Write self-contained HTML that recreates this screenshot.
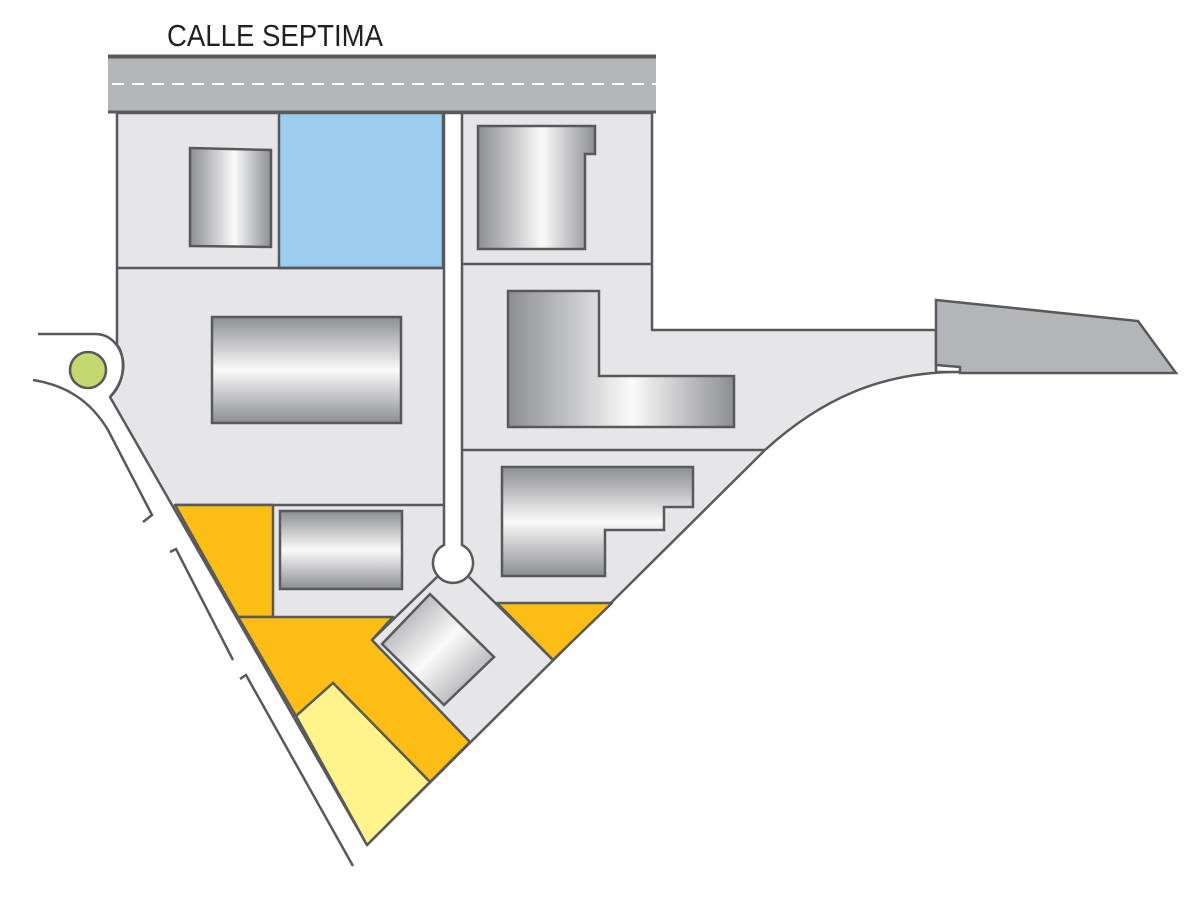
<!DOCTYPE html>
<html><head><style>html,body{margin:0;padding:0;background:#fff;width:1200px;height:899px;overflow:hidden}</style></head>
<body>
<svg width="1200" height="899" viewBox="0 0 1200 899" xmlns="http://www.w3.org/2000/svg">
<defs>
<linearGradient id="gx" x1="0" y1="0" x2="1" y2="0"><stop offset="0" stop-color="#8d8e92"/><stop offset="0.55" stop-color="#fafafa"/><stop offset="1" stop-color="#8d8e92"/></linearGradient>
<linearGradient id="gy" x1="0" y1="0" x2="0" y2="1"><stop offset="0" stop-color="#8d8e92"/><stop offset="0.5" stop-color="#fafafa"/><stop offset="1" stop-color="#8d8e92"/></linearGradient>
<linearGradient id="gd" x1="0" y1="0" x2="1" y2="1"><stop offset="0" stop-color="#8d8e92"/><stop offset="0.5" stop-color="#fafafa"/><stop offset="1" stop-color="#8d8e92"/></linearGradient>
</defs>
<text x="167" y="46" font-family="Liberation Sans Narrow, Liberation Sans, sans-serif" font-size="31" fill="#231f20" textLength="216" lengthAdjust="spacingAndGlyphs">CALLE SEPTIMA</text>
<rect x="108" y="56" width="548" height="56" fill="#b4b5b8"/>
<line x1="108" y1="56.5" x2="656" y2="56.5" stroke="#58595b" stroke-width="4"/>
<line x1="112" y1="84" x2="656" y2="84" stroke="#fff" stroke-width="2" stroke-dasharray="12 8"/>
<path d="M117,113 L652,113 L652,330 L936,330 L936,372 L958,372 C880,372 820,400 765,450 L367,845 L110,397 C128,380 124,352 117,345 Z" fill="#e6e6e8" stroke="#58595b" stroke-width="2.5" stroke-linejoin="round"/>
<polygon points="936,300 1138,321 1176,373 960,373 960,367 936,365" fill="#b4b5b8" stroke="#58595b" stroke-width="2.5"/>
<rect x="279" y="113" width="164" height="155" fill="#9dcdee" stroke="#58595b" stroke-width="2.5"/>
<g stroke="#58595b" stroke-width="2.5" fill="none">
<line x1="117" y1="268" x2="444" y2="268"/>
<line x1="462" y1="264" x2="652" y2="264"/>
<line x1="462" y1="450" x2="765" y2="450"/>
<line x1="175" y1="505" x2="444" y2="505"/>
</g>
<g stroke="#58595b" stroke-width="2.5" stroke-linejoin="round">
<polygon points="175,505 273,505 273,617 238,617" fill="#fcbd14"/>
<polygon points="238,617 393,617 372,640 470,742 430,782 333,683 296,716" fill="#fcbd14"/>
<polygon points="296,716 333,683 430,782 367,845" fill="#fff38a"/>
<polygon points="497,603 612,603 553,660" fill="#fcbd14"/>
</g>
<path d="M444,113 L462,113 L462,545 A20,20 0 1 1 444,545 Z" fill="#fff" stroke="#58595b" stroke-width="2.5"/>
<line x1="108" y1="112" x2="656" y2="112" stroke="#58595b" stroke-width="3"/>
<g stroke="#58595b" stroke-width="2.5">
<line x1="438" y1="576" x2="372" y2="640"/>
<line x1="469" y1="577" x2="553" y2="660"/>
</g>
<g stroke="#58595b" stroke-width="2.5" stroke-linejoin="miter">
<polygon points="190,148 271,150 271,247 190,246" fill="url(#gx)"/>
<polygon points="478,126 595,126 595,154 585,154 585,249 478,249" fill="url(#gx)"/>
<rect x="212" y="317" width="189" height="106" fill="url(#gy)"/>
<polygon points="508,291 599,291 599,376 734,376 734,427 508,427" fill="url(#gx)"/>
<polygon points="502,467 693,467 693,507 664,507 664,530 605,530 605,576 502,576" fill="url(#gy)"/>
<rect x="280" y="511" width="122" height="78" fill="url(#gy)"/>
<polygon points="430,594 494,657 444,705 382,644" fill="url(#gd)"/>
</g>
<g stroke="#58595b" stroke-width="2.5" fill="none">
<path d="M38,334 L95,334 C110,334 120,345 123,360 C125,375 118,388 110,397"/>
<path d="M33,380 C65,385 90,400 108,430 L152,515 L143,522"/>
<path d="M170,552 L176,549 L233,660"/>
<path d="M240,679 L246,675 L353,866"/>
</g>
<circle cx="88" cy="370" r="18" fill="#c5d86d" stroke="#58595b" stroke-width="2.5"/>
</svg>
</body></html>
